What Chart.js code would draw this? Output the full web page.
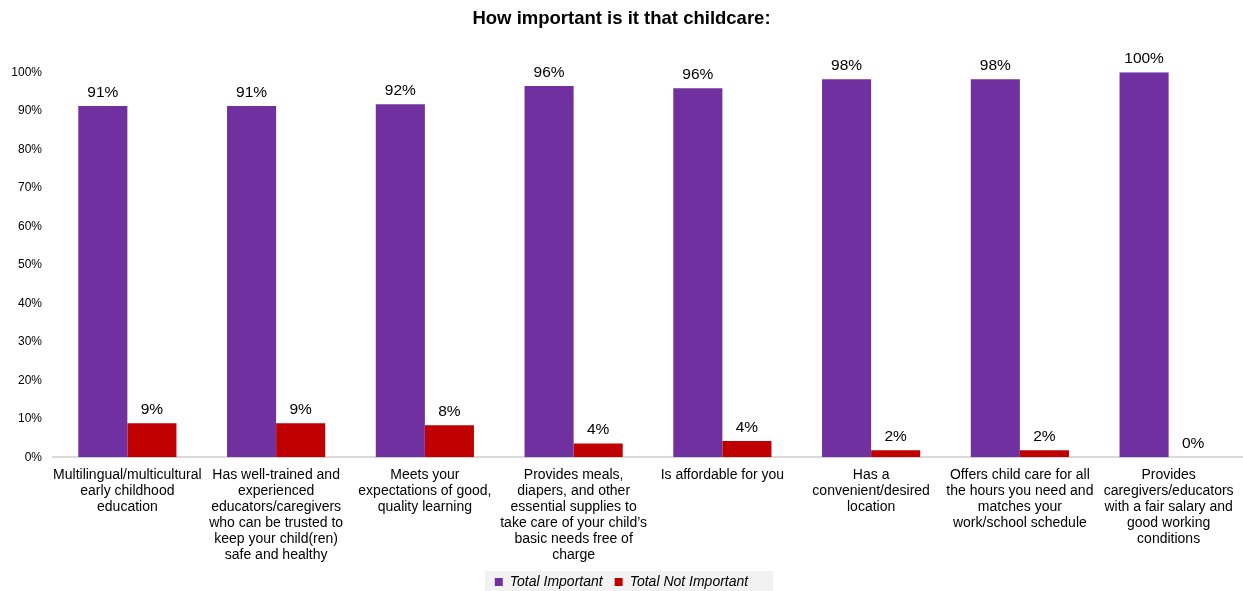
<!DOCTYPE html>
<html>
<head>
<meta charset="utf-8">
<script src="https://cdn.jsdelivr.net/npm/chart.js@4.4.0/dist/chart.umd.min.js"></script>
<style>
  html, body { margin: 0; padding: 0; background: #fff; }
  #wrap { width: 1243px; height: 591px; }
</style>
</head>
<body>
<div id="wrap"><canvas id="childcare"></canvas></div>
<script>
var categories = [
  ['Multilingual/multicultural', 'early childhood', 'education'],
  ['Has well-trained and', 'experienced', 'educators/caregivers', 'who can be trusted to', 'keep your child(ren)', 'safe and healthy'],
  ['Meets your', 'expectations of good,', 'quality learning'],
  ['Provides meals,', 'diapers, and other', 'essential supplies to', 'take care of your child\u2019s', 'basic needs free of', 'charge'],
  ['Is affordable for you'],
  ['Has a', 'convenient/desired', 'location'],
  ['Offers child care for all', 'the hours you need and', 'matches your', 'work/school schedule'],
  ['Provides', 'caregivers/educators', 'with a fair salary and', 'good working', 'conditions']
];
var totalImportant = [91.2, 91.2, 91.7, 96.4, 95.8, 98.2, 98.2, 100];
var totalNotImportant = [8.8, 8.8, 8.3, 3.6, 4.2, 1.8, 1.8, 0];
var yTicks = [0, 10, 20, 30, 40, 50, 60, 70, 80, 90, 100];

var FONT = '"Liberation Sans", Arial, sans-serif';

// value labels above each bar
var barLabels = {
  id: 'barLabels',
  afterDatasetsDraw: function(chart) {
    var ctx = chart.ctx;
    ctx.save();
    ctx.font = '15.5px ' + FONT;
    ctx.fillStyle = '#000';
    ctx.textAlign = 'center';
    ctx.textBaseline = 'bottom';
    chart.data.datasets.forEach(function(ds, i) {
      chart.getDatasetMeta(i).data.forEach(function(bar, j) {
        ctx.fillText(Math.round(ds.data[j]) + '%', bar.x, bar.y - 6);
      });
    });
    ctx.restore();
  }
};

// grey box behind the legend
var legendBox = {
  id: 'legendBox',
  beforeDraw: function(chart) {
    var lg = chart.legend;
    if (!lg) return;
    var ctx = chart.ctx;
    ctx.save();
    ctx.fillStyle = '#f2f2f2';
    ctx.fillRect(485, lg.top + 8, 288, 20);
    ctx.restore();
  }
};

new Chart(document.getElementById('childcare'), {
  type: 'bar',
  data: {
    labels: categories,
    datasets: [
      {
        label: 'Total Important',
        data: totalImportant,
        backgroundColor: '#7030a0',
        categoryPercentage: 0.66,
        barPercentage: 1.0
      },
      {
        label: 'Total Not Important',
        data: totalNotImportant,
        backgroundColor: '#c00000',
        categoryPercentage: 0.66,
        barPercentage: 1.0
      }
    ]
  },
  plugins: [barLabels, legendBox],
  options: {
    responsive: true,
    maintainAspectRatio: false,
    animation: false,
    layout: { padding: { left: 0, right: 0, top: 0, bottom: -8 } },
    plugins: {
      title: {
        display: true,
        text: 'How important is it that childcare:',
        color: '#000',
        font: { family: FONT, size: 18.5, weight: 'bold' },
        padding: { top: 8, bottom: 42 }
      },
      legend: {
        position: 'bottom',
        labels: {
          color: '#000',
          boxWidth: 8,
          boxHeight: 8,
          padding: 12,
          font: { family: FONT, size: 14, style: 'italic' }
        }
      },
      tooltip: { enabled: false }
    },
    scales: {
      x: {
        grid: { display: false, drawTicks: false },
        border: { display: true, color: '#d9d9d9', width: 2 },
        afterFit: function(scale) {
          scale.paddingLeft = 0;
          scale.paddingRight = 0;
          scale.height -= 10;
        },
        ticks: {
          color: '#000',
          maxRotation: 0,
          autoSkip: false,
          padding: 10,
          font: { family: FONT, size: 14, lineHeight: 1.14 }
        }
      },
      y: {
        min: 0,
        max: 100,
        afterBuildTicks: function(axis) {
          axis.ticks = yTicks.map(function(v) { return { value: v }; });
        },
        afterFit: function(scale) {
          scale.width = 53;
        },
        grid: { display: false, drawTicks: false },
        border: { display: false },
        ticks: {
          color: '#000',
          padding: 11,
          callback: function(v) { return v + '%'; },
          font: { family: FONT, size: 12 }
        }
      }
    }
  }
});
</script>
</body>
</html>
